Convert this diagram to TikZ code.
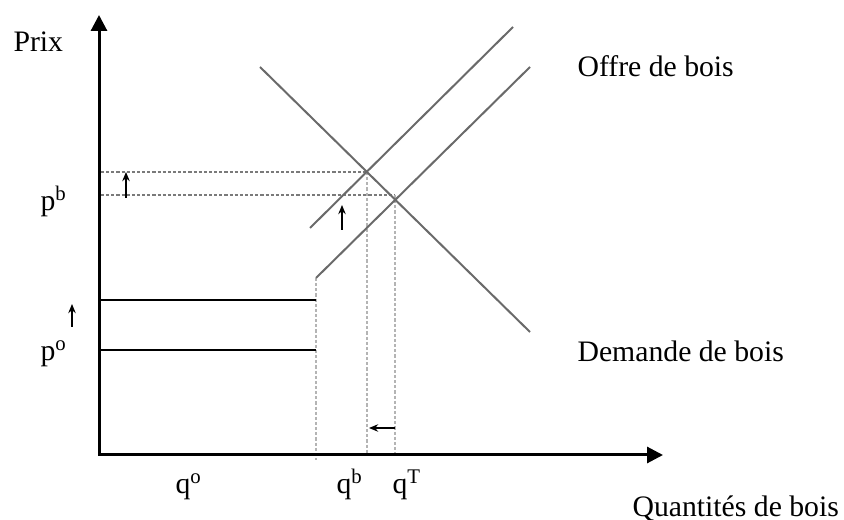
\documentclass[tikz,border=0pt]{standalone}
\usepackage{fontspec}
\setmainfont{Liberation Serif}
\usepackage{xcolor}
\definecolor{cAxis}{HTML}{000000}
\definecolor{cCurve}{HTML}{6A6A6A}
\definecolor{cGuideH}{HTML}{7A7A7A}
\definecolor{cGuideV}{HTML}{B4B4B4}
\usetikzlibrary{arrows.meta}
\tikzset{
  axis-line/.style={line width=1.05pt,draw=cAxis,
    {Triangle[length=5.6pt,width=5.6pt]}-{Triangle[length=5.6pt,width=5.6pt]}},
  curve-line/.style={line width=0.7pt,draw=cCurve},
  level-line/.style={line width=0.75pt,draw=cAxis},
  guide-h/.style={line width=0.4pt,draw=cGuideH,dash pattern=on 1.1pt off 0.7pt},
  guide-v/.style={line width=0.45pt,draw=cGuideV,dash pattern=on 1.1pt off 0.7pt},
  shift-arrow/.style={-{Stealth[length=3.2pt,width=2.6pt]},line width=0.6pt,draw=cAxis},
  lbl/.style={font=\fontsize{10.4}{12}\selectfont,inner sep=0pt,anchor=base west},
}
\begin{document}
\begin{tikzpicture}[x=0.35pt,y=-0.35pt]
  \useasboundingbox (0,0) rectangle (844,520);
  % points of the plot
  \coordinate (O) at (99,455);
  \coordinate (ytop) at (99,15);
  \coordinate (xend) at (663,455);
  \coordinate (dem-a) at (260,67);
  \coordinate (dem-b) at (530,332);
  \coordinate (off-kink) at (316,278);
  \coordinate (off-end) at (530,67);
  \coordinate (offb-a) at (310,228);
  \coordinate (offb-b) at (513,27);
  \coordinate (eq-b) at (367,172);
  \coordinate (eq-t) at (395,195);
  \coordinate (lev-hi) at (316,300);
  \coordinate (lev-lo) at (316,350);
  % guides
  \draw[guide-h] (101,172) -- (eq-b);
  \draw[guide-h] (101,195) -- (eq-t);
  \draw[guide-v] (eq-b) -- (367,455);
  \draw[guide-v] (eq-t) -- (395,455);
  \draw[guide-v] (off-kink) -- (316,460);
  % curves
  \draw[curve-line] (dem-a) -- (dem-b);
  \draw[curve-line] (off-kink) -- (off-end);
  \draw[curve-line] (offb-a) -- (offb-b);
  \draw[level-line] (99,300) -- (lev-hi);
  \draw[level-line] (99,350) -- (lev-lo);
  % axes
  \draw[axis-line] (ytop) -- (O) -- (xend);
  % shifts
  \draw[shift-arrow] (126,198) -- (126,172);
  \draw[shift-arrow] (342,230) -- (342,205);
  \draw[shift-arrow] (72,327) -- (72,304);
  \draw[shift-arrow] (395,428) -- (369,428);
  % labels
  \node[lbl] (prix) at (13,52) {Prix};
  \node[lbl] (pb) at (40,211) {p\textsuperscript{b}};
  \node[lbl] (po) at (40,361) {p\textsuperscript{o}};
  \node[lbl] (qo) at (175,494) {q\textsuperscript{o}};
  \node[lbl] (qb) at (336,494) {q\textsuperscript{b}};
  \node[lbl] (qt) at (392,494) {q\textsuperscript{T}};
  \node[lbl] (offre) at (577,77) {Offre de bois};
  \node[lbl] (demande) at (577,362) {Demande de bois};
  \node[lbl] (quant) at (632,516) {Quantités de bois};
\end{tikzpicture}
\end{document}
